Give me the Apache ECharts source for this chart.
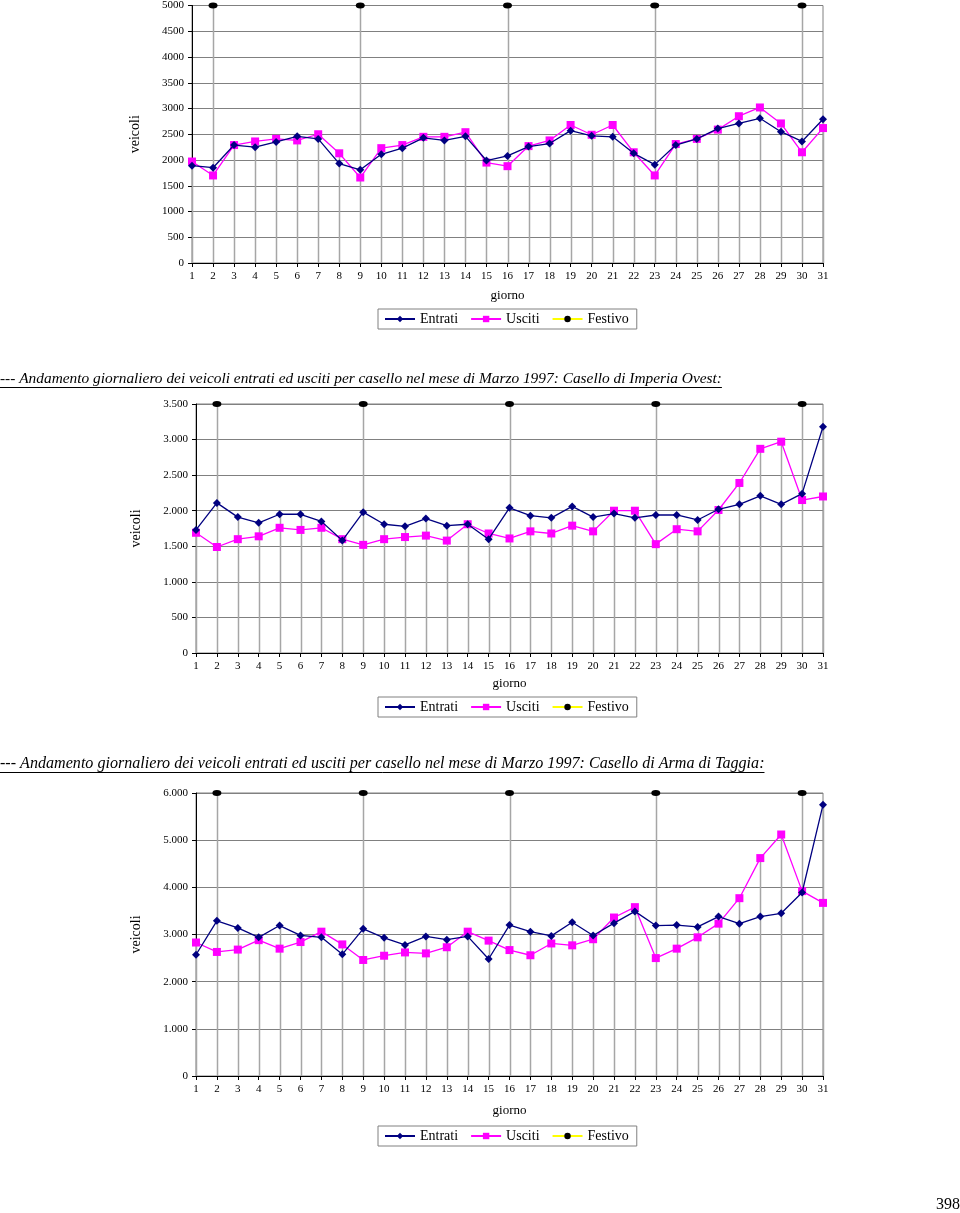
<!DOCTYPE html>
<html>
<head>
<meta charset="utf-8">
<script src="https://cdn.jsdelivr.net/npm/echarts@6/dist/echarts.min.js"></script>
<style>
html,body{margin:0;padding:0;background:#fff;}
#main{width:960px;height:1213px;}
</style>
</head>
<body>
<div id="main"></div>
<script>
// ---------- DATA ----------
const days = ['1','2','3','4','5','6','7','8','9','10','11','12','13','14','15','16','17','18','19','20','21','22','23','24','25','26','27','28','29','30','31'];
const festivoDays = [2, 9, 16, 23, 30];

// Chart 1 (casello precedente)
const entrati1 = [1890,1850,2290,2250,2350,2460,2410,1930,1810,2110,2230,2430,2380,2460,1990,2080,2260,2320,2570,2470,2450,2130,1910,2290,2410,2610,2710,2810,2550,2360,2790];
const usciti1  = [1970,1700,2290,2360,2410,2380,2500,2130,1660,2230,2290,2450,2450,2540,1950,1880,2270,2380,2680,2490,2680,2150,1700,2310,2410,2590,2850,3020,2710,2150,2620];
const festivo1Level = 5000;

// Chart 2: Casello di Imperia Ovest
const entrati2 = [1730,2110,1910,1830,1950,1950,1850,1580,1980,1810,1780,1890,1790,1810,1600,2040,1930,1900,2060,1910,1960,1900,1940,1940,1870,2020,2090,2210,2090,2240,3180];
const usciti2  = [1690,1490,1600,1640,1760,1730,1760,1600,1520,1600,1630,1650,1580,1810,1680,1610,1710,1680,1790,1710,2000,2000,1530,1740,1710,2010,2390,2870,2970,2150,2200];
const festivo2Level = 3500;

// Chart 3: Casello di Arma di Taggia
const entrati3 = [2570,3290,3140,2940,3190,2980,2940,2580,3120,2930,2780,2960,2890,2960,2480,3200,3060,2970,3260,2980,3240,3490,3190,3200,3160,3380,3230,3380,3450,3890,5750];
const usciti3  = [2830,2630,2680,2880,2700,2840,3060,2790,2460,2550,2620,2600,2730,3060,2870,2670,2560,2810,2770,2900,3360,3580,2500,2700,2940,3230,3770,4620,5120,3920,3670];
const festivo3Level = 6000;

const yTicks1 = {min:0, max:5000, interval:500};
const yTicks2 = {min:0, max:3500, interval:500};
const yTicks3 = {min:0, max:6000, interval:1000};

const title2 = '--- Andamento giornaliero dei veicoli entrati ed usciti per casello nel mese di Marzo 1997: Casello di Imperia Ovest:';
const title3 = '--- Andamento giornaliero dei veicoli entrati ed usciti per casello nel mese di Marzo 1997: Casello di Arma di Taggia:';
const pageNumber = '398';

// ---------- BUILD ----------
const SERIF = '"Liberation Serif","Times New Roman",serif';
function festivo(level){ return days.map(d => festivoDays.indexOf(+d) >= 0 ? level : null); }
function dotSep(v){ return String(v).replace(/\B(?=(\d{3})+(?!\d))/g, '.'); }

const grids = [
  {left:192, right:137, top:3,   height:260},
  {left:196, right:137, top:404, height:249},
  {left:196, right:137, top:793, height:283}
];
const sets = [
  {e:entrati1, u:usciti1, f:festivo(festivo1Level), y:yTicks1, fmt:v=>String(v)},
  {e:entrati2, u:usciti2, f:festivo(festivo2Level), y:yTicks2, fmt:dotSep},
  {e:entrati3, u:usciti3, f:festivo(festivo3Level), y:yTicks3, fmt:dotSep}
];

const xAxes = [], yAxes = [], series = [], legends = [];
const legendTops = [309, 697, 1126];
const giornoGaps = [26, 24, 28];
sets.forEach((s, gi) => {
  grids[gi].show = true;
  grids[gi].borderColor = '#808080';
  grids[gi].borderWidth = 1;
  xAxes.push({
    gridIndex: gi, type:'category', data: days, boundaryGap:false,
    name:'giorno', nameLocation:'middle', nameGap: giornoGaps[gi],
    nameTextStyle:{fontFamily:SERIF, fontSize:13, color:'#000'},
    axisLine:{show:true, lineStyle:{color:'#000', width:1}},
    axisTick:{show:true, length:4, lineStyle:{color:'#000'}},
    axisLabel:{fontFamily:SERIF, fontSize:11, color:'#000', margin:8, interval:0},
    splitLine:{show:false}
  });
  yAxes.push({
    gridIndex: gi, type:'value', min:s.y.min, max:s.y.max, interval:s.y.interval,
    name:'veicoli', nameLocation:'middle', nameGap: gi===0 ? 50 : 53, nameRotate:90,
    nameTextStyle:{fontFamily:SERIF, fontSize:14, color:'#000'},
    axisLine:{show:true, lineStyle:{color:'#000', width:1}},
    axisTick:{show:true, length:4, lineStyle:{color:'#000'}},
    axisLabel:{fontFamily:SERIF, fontSize:11, color:'#000', margin:8, formatter:s.fmt},
    splitLine:{show:true, lineStyle:{color:'#808080', width:1}}
  });
  const drop = days.map((d, i) => [i, Math.max(s.e[i], s.u[i], s.f[i] || 0)]);
  series.push({
    type:'custom', xAxisIndex:gi, yAxisIndex:gi, silent:true, z:1,
    data: drop,
    renderItem: function(params, api){
      const p0 = api.coord([api.value(0), 0]);
      const p1 = api.coord([api.value(0), api.value(1)]);
      return {type:'line', shape:{x1:Math.round(p0[0])+0.5, y1:p0[1], x2:Math.round(p1[0])+0.5, y2:p1[1]},
              style:{stroke:'#a6a6a6', lineWidth:1.5}};
    }
  });
  series.push({
    name:'Entrati', type:'line', xAxisIndex:gi, yAxisIndex:gi, data:s.e, z:4,
    symbol:'diamond', symbolSize:8, showAllSymbol:true,
    lineStyle:{color:'#000080', width:1.3}, itemStyle:{color:'#000080'}
  });
  series.push({
    name:'Usciti', type:'line', xAxisIndex:gi, yAxisIndex:gi, data:s.u, z:3,
    symbol:'rect', symbolSize:8, showAllSymbol:true,
    lineStyle:{color:'#ff00ff', width:1.3}, itemStyle:{color:'#ff00ff'}
  });
  series.push({
    name:'Festivo', type:'line', xAxisIndex:gi, yAxisIndex:gi, data:s.f, z:5,
    symbol:'circle', symbolSize:[9,6], connectNulls:false, showAllSymbol:true,
    lineStyle:{color:'#ffff00', width:1.3}, itemStyle:{color:'#000'}
  });
  legends.push({
    left: 378, top: legendTops[gi], orient:'horizontal',
    data:['Entrati','Usciti','Festivo'],
    itemWidth: 30, itemHeight: 8, itemGap: 12,
    padding:[3,8,3,6],
    borderColor:'#808080', borderWidth:1, backgroundColor:'#fff',
    selectedMode:false,
    textStyle:{fontFamily:SERIF, fontSize:14, color:'#000', padding:[0,0,0,0]}
  });
});

// title sizes fitted to the reference widths; underlines via measured text widths
const cv = document.createElement('canvas').getContext('2d');
function fitFont(text, targetW){
  cv.font = 'italic 17px ' + SERIF;
  const s = 17 * targetW / cv.measureText(text).width;
  return s;
}
const fs2 = fitFont(title2, 723);
const fs3 = fitFont(title3, 765);
cv.font = 'italic ' + fs2 + 'px ' + SERIF; const w2 = cv.measureText(title2).width;
cv.font = 'italic ' + fs3 + 'px ' + SERIF; const w3 = cv.measureText(title3).width;

const graphic = [
  {type:'text', left:0, top:387 - fs2, style:{text:title2, font:'italic ' + fs2 + 'px ' + SERIF, fill:'#000'}},
  {type:'line', shape:{x1:0, y1:387.5, x2:w2, y2:387.5}, style:{stroke:'#000', lineWidth:1}},
  {type:'text', left:0, top:772 - fs3, style:{text:title3, font:'italic ' + fs3 + 'px ' + SERIF, fill:'#000'}},
  {type:'line', shape:{x1:0, y1:772.5, x2:w3, y2:772.5}, style:{stroke:'#000', lineWidth:1}},
  {type:'text', left:936, top:1197, style:{text:pageNumber, font:'16px ' + SERIF, fill:'#000'}}
];

const chart = echarts.init(document.getElementById('main'), null, {renderer:'canvas'});
chart.setOption({
  animation:false,
  backgroundColor:'#fff',
  grid: grids,
  xAxis: xAxes,
  yAxis: yAxes,
  legend: legends,
  series: series,
  graphic: graphic
});
</script>
</body>
</html>
